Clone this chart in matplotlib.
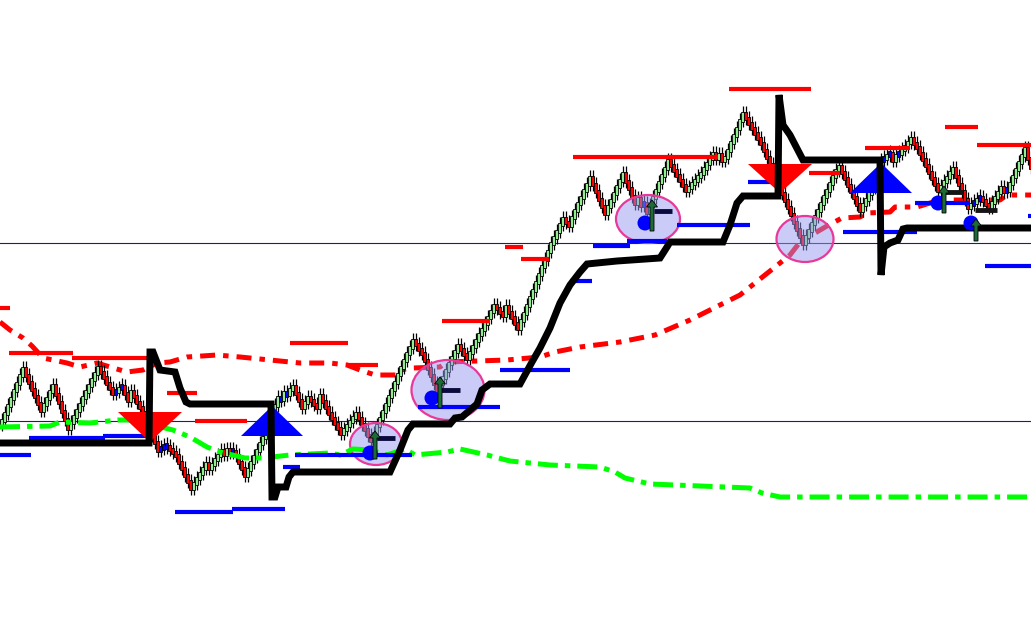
import numpy as np
import matplotlib
matplotlib.use("Agg")
import matplotlib.pyplot as plt
from matplotlib.patches import Ellipse, Polygon, Circle, FancyArrow

# price closes, one bar every 3 px (values are chart y-levels, screen-down)
closes = [
    420, 413, 405, 398, 390, 383, 375, 368, 375, 382,
    389, 396, 403, 410, 404, 398, 391, 385, 394, 402,
    411, 419, 428, 422, 416, 410, 404, 397, 391, 385,
    379, 373, 367, 372, 377, 383, 388, 393, 391, 388,
    386, 393, 400, 391, 396, 402, 407, 412, 420, 427,
    435, 442, 450, 448, 447, 446, 449, 452, 455, 462,
    468, 475, 481, 488, 483, 478, 473, 468, 463, 468,
    464, 459, 455, 450, 454, 449, 452, 451, 455, 462,
    468, 475, 469, 462, 456, 450, 443, 437, 429, 421,
    413, 405, 397, 399, 392, 394, 389, 386, 393, 400,
    407, 402, 397, 400, 404, 407, 395, 401, 407, 413,
    418, 423, 428, 433, 429, 425, 421, 417, 413, 418,
    424, 429, 435, 440, 433, 425, 418, 411, 404, 396,
    389, 382, 374, 367, 360, 353, 347, 340, 344, 349,
    353, 360, 368, 375, 383, 390, 383, 377, 370, 363,
    357, 351, 345, 349, 354, 358, 352, 346, 340, 334,
    329, 323, 317, 311, 305, 308, 312, 315, 306, 312,
    317, 323, 328, 320, 313, 305, 297, 290, 282, 274,
    266, 259, 251, 243, 237, 231, 224, 218, 222, 225,
    217, 210, 203, 197, 190, 184, 177, 184, 191, 199,
    206, 213, 206, 200, 193, 186, 180, 173, 181, 188,
    196, 203, 198, 205, 203, 212, 205, 197, 190, 182,
    175, 168, 160, 165, 170, 175, 180, 185, 190, 187,
    183, 180, 176, 173, 168, 163, 158, 153, 158, 154,
    160, 157, 150, 142, 135, 128, 120, 113, 118, 123,
    128, 133, 138, 143, 150, 157, 164, 172, 179, 186,
    193, 200, 207, 214, 222, 229, 236, 243, 236, 230,
    223, 216, 210, 203, 196, 190, 183, 176, 170, 166,
    172, 178, 185, 191, 197, 204, 210, 204, 199, 193,
    187, 178, 169, 160, 158, 155, 153, 160, 155, 153,
    149, 146, 142, 138, 143, 147, 153, 159, 165, 172,
    178, 184, 190, 186, 181, 177, 172, 168, 176, 184,
    191, 199, 207, 204, 202, 199, 197, 200, 204, 207,
    202, 197, 192, 187, 191, 190, 183, 176, 169, 162,
    155, 148, 158, 167,
]
first_open = 424

# trailing stop (thick black)
stop_x = [0, 149, 150, 153, 160, 175, 180, 186, 190, 271, 272, 275, 278, 286, 289, 293,
          390, 400, 408, 413, 450, 455, 462, 477, 482, 490, 520, 532, 540, 550, 560,
          570, 580, 587, 617, 660, 667, 670, 723, 730, 737, 743, 778, 779, 783, 790,
          803, 880, 881, 884, 890, 898, 903, 907, 1031]
stop_y = [443, 443, 352, 352, 370, 372, 388, 402, 404, 404, 497, 497, 487, 487, 477, 472,
          472, 450, 430, 424, 424, 418, 417, 404, 390, 384, 384, 362, 348, 328, 303,
          285, 272, 264, 261, 258, 247, 242, 242, 225, 203, 196, 196, 95, 125, 135,
          160, 160, 275, 247, 243, 240, 229, 228, 228]

# upper red dash-dot band
upper_x = [0, 10, 23, 32, 43, 53, 67, 80, 97, 110, 127, 143, 157, 170, 187, 217, 240, 270,
           300, 330, 347, 360, 375, 397, 400, 413, 440, 447, 507, 540, 555, 580, 620, 655,
           690, 720, 740, 760, 780, 790, 800, 815, 827, 842, 860, 867, 890, 895, 917, 940,
           1000, 1007, 1031]
upper_y = [322, 330, 338, 346, 358, 360, 363, 367, 363, 367, 372, 370, 363, 362, 357, 355,
           357, 360, 363, 363, 365, 370, 375, 375, 370, 368, 367, 362, 360, 357, 352, 347,
           342, 335, 320, 305, 295, 279, 263, 255, 242, 233, 226, 218, 217, 213, 212, 207,
           207, 200, 200, 195, 195]

# lower green dash-dot band
lower_x = [0, 50, 60, 90, 118, 133, 157, 173, 190, 207, 220, 245, 263, 290, 330, 340, 353,
           370, 387, 405, 415, 447, 460, 487, 510, 550, 600, 615, 625, 650, 700, 750, 762,
           780, 1031]
lower_y = [427, 426, 422, 423, 420, 420, 426, 430, 437, 447, 452, 458, 458, 455, 453, 455,
           449, 450, 455, 449, 455, 452, 449, 455, 461, 465, 467, 472, 478, 484, 486, 488,
           493, 497, 497]

# resistance (red) and support (blue) segments
res_x0 = [0, 9, 72, 167, 195, 290, 347, 442, 505, 521, 573, 729, 809, 865, 945, 977]
res_x1 = [10, 73, 150, 197, 247, 348, 378, 490, 523, 549, 718, 811, 840, 910, 978, 1031]
res_y = [308, 353, 358, 393, 421, 343, 365, 321, 247, 259, 157, 89, 173, 148, 127, 145]

sup_x0 = [0, 29, 103, 175, 232, 283, 295, 418, 500, 570, 593, 627, 677, 748, 843, 915, 985, 1028]
sup_x1 = [31, 105, 147, 233, 285, 300, 412, 500, 570, 592, 630, 667, 750, 772, 917, 970, 1031, 1031]
sup_y = [455, 438, 436, 512, 509, 467, 455, 407, 370, 281, 246, 241, 225, 182, 232, 203, 266, 216]

level_lines = [243, 421]

# signal triangles: centre x, base y, apex y, half width
sell_x, sell_base, sell_apex, sell_hw = [150, 780], [412, 164], [442, 193], [32, 32]
buy_x, buy_base, buy_apex, buy_hw = [272, 881], [436, 193], [406, 163], [31, 31]

# highlight ellipses
ell_x = [376, 448, 648, 805]
ell_y = [444, 390, 219, 239]
ell_w = [52, 73, 64, 57]
ell_h = [42, 60, 48, 46]

# entry markers: dot, arrow and bar
dot_x = [370, 432, 645, 938, 971]
dot_y = [453, 398, 223, 203, 223]
arr_x = [375, 440, 652, 944, 976]
arr_y0 = [459, 408, 231, 213, 241]
arr_y1 = [431, 377, 200, 186, 219]
bar_x0 = [377, 441, 654, 945, 975]
bar_x1 = [395, 460, 672, 963, 997]
bar_y = [438, 390, 211, 192, 210]
bar_col = ["#0a0a3c", "#0a0a3c", "#0a0a3c", "#151515", "#151515"]

fig = plt.figure(figsize=(10.31, 6.2), dpi=100)
ax = fig.add_axes([0, 0, 1, 1])
ax.set_xlim(0, 1031)
ax.set_ylim(620, 0)
ax.axis("off")

for yl in level_lines:
    ax.axhline(yl, color="#1a1a8c", lw=0.8, zorder=1)

ax.plot(upper_x, upper_y, color="#ff0000", lw=3.6, ls=(0, (3, 1.6, 1.1, 1.6)),
        dash_capstyle="butt", zorder=2)

# candles
c = np.array(closes, dtype=float)
o = np.r_[first_open, c[:-1]]
x = 1.5 + 3 * np.arange(len(c))
h = c - o
small = np.abs(h) <= 2
h = np.where(small, np.where(h >= 0, 3.0, -3.0), h)
# bodies slightly overlap neighbours, as in the source chart
b0 = np.where(h >= 0, o - 1.5, o + 1.5)
hb = np.where(h >= 0, h + 3, h - 3)
cols = np.where(small, "#0000ff", np.where(c < o, "#90ee90", "#ff0000"))
top = np.minimum(o, o + h) - 7
bot = np.maximum(o, o + h) + 7
ax.vlines(x, top, bot, color="black", lw=0.9, zorder=3)
ax.bar(x, hb, bottom=b0, width=3.4, color=cols, edgecolor="black", linewidth=0.6, zorder=3)

for cx, cy, w, hh in zip(ell_x, ell_y, ell_w, ell_h):
    ax.add_patch(Ellipse((cx, cy), w, hh, facecolor=(0.6, 0.6, 0.95, 0.5),
                         edgecolor="none", zorder=4))
    ax.add_patch(Ellipse((cx, cy), w, hh, facecolor="none",
                         edgecolor="#e8399a", lw=1.6, zorder=4))

ax.plot(lower_x, lower_y, color="#00ff00", lw=3.6, ls=(0, (4, 1.4, 1.1, 1.4)),
        dash_capstyle="butt", zorder=5)
ax.hlines(sup_y, sup_x0, sup_x1, color="#0000ff", lw=3.0, zorder=5)
ax.hlines(res_y, res_x0, res_x1, color="#ff0000", lw=3.0, zorder=5)

for cx, by, ay, hw in zip(sell_x, sell_base, sell_apex, sell_hw):
    ax.add_patch(Polygon([(cx - hw, by), (cx + hw, by), (cx, ay)], closed=True,
                         facecolor="#ff0000", edgecolor="none", zorder=5))
for cx, by, ay, hw in zip(buy_x, buy_base, buy_apex, buy_hw):
    ax.add_patch(Polygon([(cx - hw, by), (cx + hw, by), (cx, ay)], closed=True,
                         facecolor="#0000ff", edgecolor="none", zorder=5))

ax.plot(stop_x, stop_y, color="black", lw=5.0, solid_joinstyle="miter",
        solid_capstyle="butt", zorder=6)

for dx, dy in zip(dot_x, dot_y):
    ax.add_patch(Circle((dx, dy), 7.5, facecolor="#0000ff", edgecolor="none", zorder=7))
for ax_, y0, y1 in zip(arr_x, arr_y0, arr_y1):
    ax.add_patch(FancyArrow(ax_, y0, 0, y1 - y0, width=4, head_width=11, head_length=7,
                            length_includes_head=True, facecolor="#1d6b38",
                            edgecolor="black", lw=0.6, zorder=8))
for x0, x1, yb, bc in zip(bar_x0, bar_x1, bar_y, bar_col):
    ax.plot([x0, x1], [yb, yb], color=bc, lw=3.5, solid_capstyle="butt", zorder=7)

fig.savefig("out.png", dpi=100)
